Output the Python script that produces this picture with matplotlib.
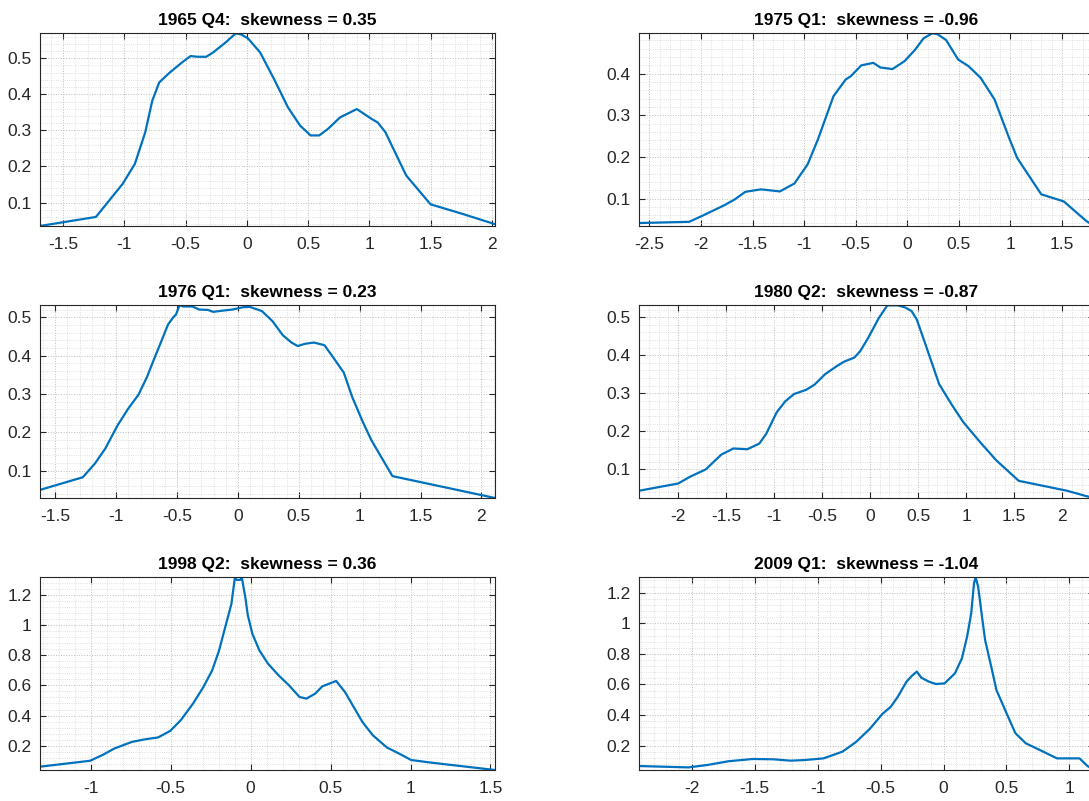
import numpy as np
import matplotlib
matplotlib.use("Agg")
import matplotlib.pyplot as plt
from matplotlib.ticker import MultipleLocator, AutoMinorLocator, FormatStrFormatter

plt.rcParams['font.family'] = ['Liberation Sans', 'DejaVu Sans']
plt.rcParams['axes.unicode_minus'] = False

# Заголовки панелей
titles = ["1965 Q4:  skewness = 0.35", "1975 Q1:  skewness = -0.96",
          "1976 Q1:  skewness = 0.23", "1980 Q2:  skewness = -0.87",
          "1998 Q2:  skewness = 0.36", "2009 Q1:  skewness = -1.04"]

# 1965 Q4
x_1965 = [-1.69, -1.233, -1.014, -0.915, -0.830, -0.773, -0.716, -0.631, -0.531, -0.460,
          -0.403, -0.332, -0.276, -0.176, -0.091, -0.048, 0.009, 0.108, 0.222, 0.335,
          0.435, 0.520, 0.591, 0.662, 0.761, 0.898, 0.960, 1.017, 1.068, 1.131,
          1.301, 1.500, 1.756, 2.026]
y_1965 = [0.035, 0.060, 0.152, 0.207, 0.295, 0.382, 0.433, 0.460, 0.488, 0.506,
          0.504, 0.504, 0.516, 0.543, 0.569, 0.566, 0.555, 0.516, 0.442, 0.364,
          0.313, 0.286, 0.286, 0.304, 0.336, 0.359, 0.345, 0.332, 0.322, 0.295,
          0.175, 0.095, 0.069, 0.040]

# 1975 Q1
x_1975 = [-2.60, -2.114, -1.990, -1.772, -1.671, -1.570, -1.419, -1.235, -1.094, -0.966,
          -0.866, -0.715, -0.597, -0.547, -0.446, -0.329, -0.262, -0.144, -0.027, 0.074,
          0.158, 0.242, 0.292, 0.376, 0.493, 0.594, 0.711, 0.846, 0.980, 1.064,
          1.181, 1.299, 1.517, 1.735, 1.81]
y_1975 = [0.041, 0.044, 0.058, 0.084, 0.098, 0.116, 0.122, 0.117, 0.136, 0.182,
          0.242, 0.346, 0.386, 0.394, 0.420, 0.426, 0.415, 0.411, 0.430, 0.457,
          0.485, 0.497, 0.495, 0.481, 0.434, 0.418, 0.390, 0.338, 0.250, 0.198,
          0.154, 0.110, 0.093, 0.046, 0.034]

# 1976 Q1
x_1976 = [-1.626, -1.274, -1.174, -1.089, -0.989, -0.903, -0.817, -0.746, -0.689, -0.640,
          -0.574, -0.531, -0.509, -0.480, -0.446, -0.374, -0.317, -0.246, -0.203, -0.131,
          -0.046, 0.040, 0.097, 0.197, 0.283, 0.369, 0.440, 0.491, 0.554, 0.626,
          0.711, 0.783, 0.869, 0.940, 1.026, 1.097, 1.269, 2.111]
y_1976 = [0.050, 0.083, 0.119, 0.158, 0.218, 0.261, 0.298, 0.345, 0.391, 0.429,
          0.481, 0.500, 0.507, 0.531, 0.528, 0.528, 0.520, 0.519, 0.514, 0.517,
          0.520, 0.526, 0.527, 0.516, 0.490, 0.453, 0.434, 0.425, 0.431, 0.434,
          0.427, 0.395, 0.356, 0.291, 0.227, 0.179, 0.086, 0.029]

# 1980 Q2
x_1980 = [-2.403, -1.996, -1.871, -1.709, -1.547, -1.421, -1.277, -1.151, -1.079, -0.971,
          -0.881, -0.791, -0.665, -0.576, -0.468, -0.342, -0.270, -0.162, -0.101, -0.018,
          0.090, 0.180, 0.288, 0.360, 0.432, 0.486, 0.576, 0.719, 0.845, 0.971,
          1.151, 1.313, 1.547, 2.050, 2.248, 2.33]
y_1980 = [0.044, 0.063, 0.081, 0.100, 0.139, 0.155, 0.153, 0.168, 0.194, 0.250,
          0.279, 0.298, 0.309, 0.323, 0.350, 0.372, 0.383, 0.394, 0.411, 0.446,
          0.497, 0.531, 0.531, 0.526, 0.516, 0.494, 0.429, 0.324, 0.272, 0.224,
          0.170, 0.124, 0.070, 0.044, 0.030, 0.025]

# 1998 Q2
x_1998 = [-1.317, -1.004, -0.928, -0.852, -0.742, -0.655, -0.579, -0.502, -0.437, -0.360,
          -0.295, -0.240, -0.197, -0.153, -0.120, -0.098, -0.087, -0.066, -0.055, -0.033,
          -0.017, 0.011, 0.055, 0.109, 0.175, 0.240, 0.306, 0.349, 0.404, 0.448,
          0.535, 0.590, 0.699, 0.764, 0.852, 0.928, 1.004, 1.135, 1.528]
y_1998 = [0.062, 0.101, 0.138, 0.182, 0.226, 0.244, 0.255, 0.299, 0.369, 0.479,
          0.589, 0.699, 0.831, 1.007, 1.138, 1.314, 1.297, 1.297, 1.314, 1.182,
          1.062, 0.941, 0.831, 0.743, 0.666, 0.600, 0.523, 0.512, 0.545, 0.593,
          0.629, 0.556, 0.358, 0.270, 0.189, 0.149, 0.106, 0.088, 0.040]

# 2009 Q1
x_2009 = [-2.418, -2.025, -1.874, -1.709, -1.516, -1.352, -1.214, -1.104, -0.953, -0.802,
          -0.692, -0.582, -0.486, -0.418, -0.363, -0.294, -0.253, -0.212, -0.176, -0.115,
          -0.060, 0.008, 0.091, 0.146, 0.187, 0.220, 0.242, 0.255, 0.275, 0.302,
          0.330, 0.379, 0.420, 0.489, 0.571, 0.654, 0.764, 0.901, 1.080, 1.143, 1.195]
y_2009 = [0.067, 0.058, 0.074, 0.098, 0.113, 0.111, 0.102, 0.106, 0.117, 0.161,
          0.226, 0.313, 0.407, 0.455, 0.520, 0.618, 0.655, 0.684, 0.644, 0.618,
          0.603, 0.607, 0.673, 0.771, 0.912, 1.065, 1.261, 1.300, 1.239, 1.065,
          0.891, 0.716, 0.564, 0.433, 0.281, 0.215, 0.172, 0.117, 0.117, 0.067, 0.041]

xs = [x_1965, x_1975, x_1976, x_1980, x_1998, x_2009]
ys = [y_1965, y_1975, y_1976, y_1980, y_1998, y_2009]
ysteps = [0.1, 0.1, 0.1, 0.1, 0.2, 0.2]

fig = plt.figure(figsize=(10.89, 8.01), dpi=100)

# Позиции осей (как в subplot MATLAB, правая колонка обрезана)
lefts = [0.0367, 0.5868]
bottoms = [0.7179, 0.3783, 0.0387]
w, h = 0.4178, 0.2405

for i in range(6):
    ax = fig.add_axes([lefts[i % 2], bottoms[i // 2], w, h])
    x = np.array(xs[i])
    y = np.array(ys[i])
    ax.plot(x, y, color='#0072BD', lw=1.6)
    ax.set_xlim(x.min(), x.max())
    ax.set_ylim(y.min(), y.max())
    ax.xaxis.set_major_locator(MultipleLocator(0.5))
    ax.yaxis.set_major_locator(MultipleLocator(ysteps[i]))
    ax.xaxis.set_minor_locator(AutoMinorLocator(5))
    ax.yaxis.set_minor_locator(AutoMinorLocator(5))
    ax.xaxis.set_major_formatter(FormatStrFormatter('%g'))
    ax.yaxis.set_major_formatter(FormatStrFormatter('%g'))
    ax.grid(True, which='major', ls=':', color='#bdbdbd', lw=0.7)
    ax.grid(True, which='minor', ls=':', color='#d6d6d6', lw=0.6)
    ax.set_axisbelow(True)
    ax.tick_params(which='major', direction='in', top=True, right=True, length=4,
                   width=0.8, color='#262626', labelsize=12.5, labelcolor='#262626')
    ax.tick_params(axis='x', which='major', pad=8)
    ax.tick_params(axis='y', which='major', pad=6)
    ax.tick_params(which='minor', length=0)
    for s in ax.spines.values():
        s.set_color('#262626')
        s.set_linewidth(0.8)
    ax.set_title(titles[i], fontsize=12.5, fontweight='bold', pad=6)

plt.savefig("out.png", dpi=100)
